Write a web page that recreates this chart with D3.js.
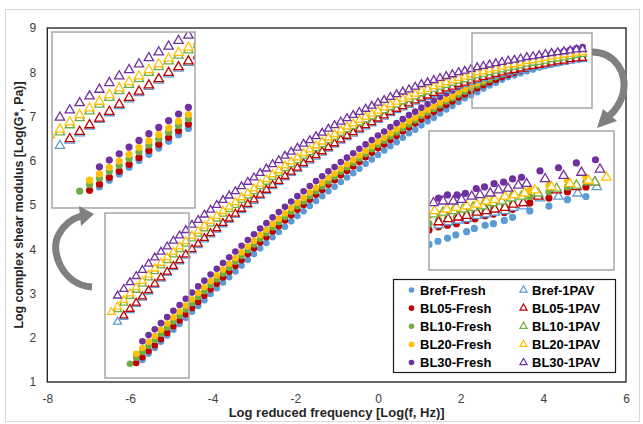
<!DOCTYPE html>
<html lang="en">
<head>
<meta charset="UTF-8" />
<title>Master curves of |G*| - Fresh vs 1PAV</title>
<style>
  body { margin: 0; background: #fff; font-family: Arial, "Liberation Sans", sans-serif; }
  .tick text { font-family: Arial, "Liberation Sans", sans-serif; font-size: 12px; fill: #404040; }
  .axis-title { font-size: 13px; font-weight: bold; fill: #262626; }
  .legend text { font-size: 13px; font-weight: bold; fill: #000; }
</style>
</head>
<body>
<div id="chart"></div>
<script src="https://d3js.org/d3.v7.min.js"></script>
<script>
// ---- data ----
var xTicks = [-8, -6, -4, -2, 0, 2, 4, 6];
var yTicks = [1, 2, 3, 4, 5, 6, 7, 8, 9];

// shared reduced-frequency grid, log(f, Hz)
var logFreq = [
  -6.45, -6.3, -6.15, -6, -5.85, -5.7, -5.55, -5.4, -5.25, -5.1, -4.95,
  -4.8, -4.65, -4.5, -4.35, -4.2, -4.05, -3.9, -3.75, -3.6, -3.45, -3.3,
  -3.15, -3, -2.85, -2.7, -2.55, -2.4, -2.25, -2.1, -1.95, -1.8, -1.65,
  -1.5, -1.35, -1.2, -1.05, -0.9, -0.75, -0.6, -0.45, -0.3, -0.15, 0,
  0.15, 0.3, 0.45, 0.6, 0.75, 0.9, 1.05, 1.2, 1.35, 1.5, 1.65,
  1.8, 1.95, 2.1, 2.25, 2.4, 2.55, 2.7, 2.85, 3, 3.15, 3.3,
  3.45, 3.6, 3.75, 3.9, 4.05, 4.2, 4.35, 4.5, 4.65, 4.8, 4.95
];

// log|G*| (Pa) on that grid, null = no point
var brefFresh = [
  null, null, null, null, null, 1.50, 1.64, 1.77, 1.91, 2.05, 2.18,
  2.31, 2.45, 2.59, 2.72, 2.85, 2.99, 3.12, 3.25, 3.37, 3.50, 3.63,
  3.76, 3.89, 4.02, 4.14, 4.27, 4.39, 4.51, 4.63, 4.75, 4.86, 4.98,
  5.09, 5.20, 5.31, 5.41, 5.52, 5.62, 5.72, 5.82, 5.93, 6.03, 6.13,
  6.23, 6.33, 6.42, 6.52, 6.62, 6.70, 6.80, 6.89, 6.97, 7.07, 7.16,
  7.24, 7.33, 7.41, 7.48, 7.55, 7.63, 7.70, 7.76, 7.83, 7.89, 7.93,
  7.98, 8.02, 8.06, 8.11, 8.14, 8.17, 8.20, 8.24, 8.27, 8.31, 8.34
];
var bl05Fresh = [
  null, null, null, null, 1.43, 1.56, 1.70, 1.83, 1.97, 2.11, 2.26,
  2.39, 2.53, 2.67, 2.81, 2.95, 3.09, 3.22, 3.36, 3.49, 3.62, 3.75,
  3.89, 4.02, 4.15, 4.27, 4.40, 4.52, 4.65, 4.77, 4.89, 5.00, 5.12,
  5.23, 5.34, 5.46, 5.56, 5.67, 5.77, 5.87, 5.97, 6.08, 6.18, 6.28,
  6.37, 6.47, 6.56, 6.66, 6.75, 6.84, 6.93, 7.01, 7.10, 7.18, 7.26,
  7.34, 7.43, 7.50, 7.57, 7.64, 7.71, 7.77, 7.83, 7.89, 7.94, 7.99,
  8.04, 8.08, 8.12, 8.16, 8.19, 8.22, 8.25, 8.28, 8.31, 8.34, 8.37
];
var bl10Fresh = [
  null, null, null, 1.41, 1.55, 1.68, 1.82, 1.95, 2.09, 2.23, 2.37,
  2.50, 2.64, 2.78, 2.92, 3.05, 3.19, 3.32, 3.45, 3.58, 3.72, 3.85,
  3.98, 4.11, 4.24, 4.36, 4.49, 4.61, 4.73, 4.85, 4.97, 5.08, 5.20,
  5.31, 5.42, 5.53, 5.64, 5.75, 5.85, 5.95, 6.05, 6.15, 6.26, 6.36,
  6.45, 6.55, 6.64, 6.73, 6.82, 6.91, 7.01, 7.09, 7.17, 7.25, 7.34,
  7.41, 7.49, 7.56, 7.64, 7.70, 7.77, 7.83, 7.89, 7.95, 8.00, 8.04,
  8.09, 8.13, 8.17, 8.21, 8.24, 8.27, 8.30, 8.33, 8.36, 8.40, 8.43
];
var bl20Fresh = [
  null, null, null, null, 1.64, 1.77, 1.91, 2.04, 2.18, 2.32, 2.46,
  2.59, 2.73, 2.87, 3.01, 3.14, 3.28, 3.41, 3.54, 3.67, 3.80, 3.93,
  4.06, 4.19, 4.32, 4.44, 4.57, 4.69, 4.81, 4.93, 5.05, 5.16, 5.28,
  5.39, 5.50, 5.61, 5.71, 5.82, 5.92, 6.02, 6.12, 6.22, 6.33, 6.43,
  6.52, 6.62, 6.71, 6.80, 6.89, 6.97, 7.07, 7.15, 7.23, 7.31, 7.39,
  7.46, 7.55, 7.62, 7.69, 7.75, 7.82, 7.88, 7.94, 8.00, 8.05, 8.09,
  8.14, 8.17, 8.21, 8.26, 8.29, 8.32, 8.35, 8.38, 8.41, 8.45, 8.48
];
var bl30Fresh = [
  null, null, null, null, null, 1.92, 2.06, 2.19, 2.33, 2.47, 2.61,
  2.74, 2.88, 3.02, 3.16, 3.29, 3.43, 3.56, 3.69, 3.82, 3.95, 4.08,
  4.21, 4.34, 4.47, 4.59, 4.72, 4.84, 4.96, 5.08, 5.20, 5.31, 5.43,
  5.54, 5.65, 5.76, 5.86, 5.97, 6.07, 6.17, 6.27, 6.37, 6.47, 6.57,
  6.66, 6.76, 6.85, 6.94, 7.03, 7.11, 7.20, 7.28, 7.36, 7.44, 7.52,
  7.59, 7.67, 7.74, 7.81, 7.87, 7.94, 8.00, 8.05, 8.11, 8.16, 8.20,
  8.25, 8.28, 8.32, 8.36, 8.39, 8.42, 8.45, 8.48, 8.51, 8.54, 8.57
];
var bref1PAV = [
  null, 2.36, 2.47, 2.62, 2.76, 2.90, 3.04, 3.19, 3.33, 3.46, 3.59,
  3.72, 3.85, 3.97, 4.09, 4.22, 4.33, 4.44, 4.56, 4.66, 4.77, 4.88,
  4.99, 5.09, 5.20, 5.31, 5.42, 5.51, 5.62, 5.72, 5.81, 5.91, 6.00,
  6.09, 6.18, 6.27, 6.36, 6.45, 6.53, 6.61, 6.69, 6.77, 6.84, 6.92,
  6.99, 7.07, 7.14, 7.20, 7.26, 7.33, 7.39, 7.44, 7.50, 7.55, 7.60,
  7.64, 7.70, 7.73, 7.78, 7.82, 7.86, 7.89, 7.93, 7.96, 8.00, 8.02,
  8.05, 8.09, 8.11, 8.13, 8.16, 8.19, 8.21, 8.23, 8.26, 8.28, 8.29
];
var bl051PAV = [
  null, null, 2.50, 2.65, 2.79, 2.93, 3.07, 3.22, 3.36, 3.49, 3.62,
  3.75, 3.88, 4.00, 4.12, 4.25, 4.36, 4.47, 4.59, 4.69, 4.80, 4.91,
  5.02, 5.12, 5.23, 5.34, 5.45, 5.54, 5.65, 5.75, 5.84, 5.94, 6.03,
  6.12, 6.21, 6.30, 6.39, 6.48, 6.56, 6.64, 6.72, 6.80, 6.87, 6.95,
  7.02, 7.10, 7.17, 7.23, 7.29, 7.36, 7.42, 7.47, 7.53, 7.58, 7.63,
  7.67, 7.73, 7.76, 7.81, 7.85, 7.89, 7.92, 7.96, 7.99, 8.03, 8.05,
  8.08, 8.12, 8.14, 8.16, 8.19, 8.22, 8.24, 8.26, 8.29, 8.31, 8.32
];
var bl101PAV = [
  null, 2.64, 2.79, 2.94, 3.08, 3.22, 3.36, 3.50, 3.63, 3.75, 3.88,
  4.00, 4.12, 4.24, 4.35, 4.47, 4.58, 4.69, 4.80, 4.90, 5.00, 5.11,
  5.21, 5.31, 5.42, 5.52, 5.63, 5.72, 5.83, 5.92, 6.01, 6.11, 6.19,
  6.28, 6.37, 6.46, 6.54, 6.63, 6.71, 6.78, 6.86, 6.93, 7.00, 7.07,
  7.14, 7.21, 7.27, 7.34, 7.39, 7.45, 7.52, 7.56, 7.62, 7.67, 7.71,
  7.76, 7.81, 7.84, 7.89, 7.93, 7.96, 8.00, 8.03, 8.06, 8.10, 8.12,
  8.15, 8.19, 8.21, 8.23, 8.26, 8.29, 8.31, 8.33, 8.36, 8.39, 8.41
];
var bl201PAV = [
  2.58, 2.70, 2.85, 3.00, 3.14, 3.28, 3.42, 3.56, 3.69, 3.81, 3.94,
  4.06, 4.18, 4.30, 4.41, 4.53, 4.64, 4.75, 4.86, 4.96, 5.06, 5.17,
  5.27, 5.37, 5.48, 5.58, 5.69, 5.78, 5.89, 5.98, 6.07, 6.17, 6.25,
  6.34, 6.43, 6.52, 6.60, 6.69, 6.77, 6.84, 6.92, 6.99, 7.06, 7.13,
  7.20, 7.27, 7.33, 7.40, 7.45, 7.51, 7.58, 7.62, 7.68, 7.73, 7.77,
  7.82, 7.87, 7.90, 7.95, 7.99, 8.02, 8.06, 8.09, 8.12, 8.16, 8.18,
  8.21, 8.25, 8.27, 8.29, 8.32, 8.35, 8.37, 8.39, 8.41, 8.44, 8.45
];
var bl301PAV = [
  null, 2.95, 3.10, 3.25, 3.39, 3.53, 3.67, 3.81, 3.94, 4.06, 4.19,
  4.31, 4.43, 4.55, 4.66, 4.78, 4.89, 5.00, 5.11, 5.21, 5.31, 5.42,
  5.52, 5.62, 5.72, 5.82, 5.92, 6.01, 6.11, 6.20, 6.29, 6.38, 6.46,
  6.55, 6.63, 6.72, 6.80, 6.88, 6.96, 7.03, 7.10, 7.17, 7.24, 7.31,
  7.37, 7.44, 7.50, 7.56, 7.61, 7.67, 7.73, 7.77, 7.82, 7.87, 7.91,
  7.95, 8.00, 8.03, 8.07, 8.11, 8.14, 8.17, 8.20, 8.23, 8.26, 8.28,
  8.31, 8.34, 8.36, 8.38, 8.41, 8.43, 8.45, 8.47, 8.49, 8.51, 8.52
];

// high-frequency zoom (right inset), [log f, log|G*|]
var insetBrefFresh = [[2.30,8.04],[2.44,8.06],[2.59,8.08],[2.72,8.10],[2.89,8.12],[3.01,8.14],[3.18,8.16],[3.31,8.17],[3.48,8.19],[3.61,8.21],[3.88,8.25],[4.18,8.28],[4.47,8.32],[4.76,8.34]];
var insetBl05Fresh = [[2.30,8.13],[2.45,8.15],[2.59,8.16],[2.73,8.17],[2.89,8.19],[3.02,8.20],[3.18,8.22],[3.31,8.23],[3.48,8.24],[3.61,8.26],[3.88,8.30],[4.18,8.33],[4.47,8.37],[4.76,8.40]];
var insetBl10Fresh = [[2.30,8.17],[2.45,8.19],[2.59,8.20],[2.73,8.21],[2.89,8.23],[3.02,8.24],[3.18,8.25],[3.31,8.27],[3.48,8.28],[3.61,8.30],[3.88,8.34],[4.18,8.37],[4.47,8.40],[4.76,8.43]];
var insetBl20Fresh = [[2.30,8.22],[2.45,8.23],[2.59,8.25],[2.73,8.26],[2.89,8.27],[3.02,8.29],[3.18,8.31],[3.31,8.32],[3.48,8.33],[3.61,8.35],[3.88,8.38],[4.18,8.41],[4.47,8.44],[4.76,8.46]];
var insetBl30Fresh = [[2.45,8.33],[2.59,8.35],[2.74,8.35],[2.87,8.36],[3.04,8.39],[3.17,8.40],[3.32,8.42],[3.47,8.43],[3.61,8.45],[3.75,8.46],[4.04,8.50],[4.33,8.52],[4.61,8.55],[4.91,8.57]];
var insetBref1PAV = [[2.45,8.16],[2.60,8.18],[2.76,8.19],[2.89,8.20],[3.05,8.22],[3.20,8.23],[3.33,8.24],[3.49,8.25],[3.62,8.27],[3.78,8.28],[4.04,8.33],[4.33,8.34],[4.63,8.36],[4.93,8.40]];
var insetBl051PAV = [[2.45,8.18],[2.60,8.20],[2.76,8.21],[2.89,8.22],[3.05,8.24],[3.20,8.25],[3.33,8.26],[3.49,8.27],[3.62,8.29],[3.78,8.30],[4.01,8.34],[4.30,8.38],[4.61,8.40],[4.90,8.43]];
var insetBl101PAV = [[2.37,8.23],[2.52,8.24],[2.68,8.25],[2.83,8.26],[2.99,8.27],[3.14,8.28],[3.30,8.30],[3.44,8.31],[3.59,8.33],[3.75,8.34],[4.01,8.36],[4.30,8.39],[4.61,8.41],[4.90,8.43]];
var insetBl201PAV = [[2.39,8.25],[2.58,8.26],[2.73,8.27],[2.89,8.28],[3.05,8.29],[3.20,8.31],[3.33,8.32],[3.49,8.34],[3.64,8.35],[3.80,8.36],[3.96,8.38],[4.22,8.40],[4.51,8.42],[4.80,8.44],[5.08,8.46]];
var insetBl301PAV = [[2.37,8.30],[2.52,8.31],[2.68,8.31],[2.81,8.32],[2.97,8.34],[3.10,8.35],[3.26,8.36],[3.39,8.38],[3.54,8.39],[3.70,8.41],[3.83,8.42],[4.12,8.45],[4.41,8.47],[4.69,8.49],[4.98,8.51]];

var seriesNames = ["Bref", "BL05", "BL10", "BL20", "BL30"];
var seriesColors = ["#5B9BD5", "#C00000", "#70AD47", "#FFC000", "#7030A0"];
var freshValues = [brefFresh, bl05Fresh, bl10Fresh, bl20Fresh, bl30Fresh];
var agedValues = [bref1PAV, bl051PAV, bl101PAV, bl201PAV, bl301PAV];
var freshInset = [insetBrefFresh, insetBl05Fresh, insetBl10Fresh, insetBl20Fresh, insetBl30Fresh];
var agedInset = [insetBref1PAV, insetBl051PAV, insetBl101PAV, insetBl201PAV, insetBl301PAV];

// ---- layout ----
var width = 643, height = 424;
var plot = {left: 47.3, right: 626, top: 28, bottom: 382};

var svg = d3.select("#chart").append("svg")
  .attr("width", width)
  .attr("height", height);

// chart area border
svg.append("rect")
  .attr("x", 5.5).attr("y", 9.5)
  .attr("width", 634).attr("height", 412)
  .attr("fill", "#fff").attr("stroke", "#D9D9D9");

var x = d3.scaleLinear().domain([-8, 6]).range([plot.left, plot.right]);
var y = d3.scaleLinear().domain([1, 9]).range([plot.bottom, plot.top]);

// axes (labels only, Excel style)
svg.append("g")
  .attr("transform", "translate(0," + plot.bottom + ")")
  .call(d3.axisBottom(x).tickValues(xTicks).tickSize(0).tickPadding(12).tickFormat(function(d) { return String(d); }))
  .call(function(g) { g.select(".domain").remove(); });

svg.append("g")
  .attr("transform", "translate(" + plot.left + ",0)")
  .call(d3.axisLeft(y).tickValues(yTicks).tickSize(0).tickPadding(11).tickFormat(function(d) { return String(d); }))
  .call(function(g) { g.select(".domain").remove(); });

svg.append("text")
  .attr("class", "axis-title")
  .attr("x", (plot.left + plot.right) / 2).attr("y", 417)
  .attr("text-anchor", "middle")
  .text("Log reduced frequency [Log(f, Hz)]");

svg.append("text")
  .attr("class", "axis-title")
  .style("font-size", "12.4px")
  .attr("transform", "translate(19," + (plot.top + plot.bottom) / 2 + ") rotate(-90)")
  .attr("text-anchor", "middle")
  .attr("dominant-baseline", "central")
  .text("Log complex shear modulus [Log(G*, Pa)]");

// ---- markers ----
function drawMarkers(g, points, color, shape, sx, sy, size) {
  if (shape === "circle") {
    g.append("g").selectAll("circle")
      .data(points)
      .enter()
      .append("circle")
      .attr("cx", function(d) { return sx(d[0]); })
      .attr("cy", function(d) { return sy(d[1]); })
      .attr("r", size)
      .attr("fill", color);
  } else {
    var tri = d3.symbol().type(d3.symbolTriangle).size(size);
    g.append("g").selectAll("path")
      .data(points)
      .enter()
      .append("path")
      .attr("d", tri)
      .attr("transform", function(d) { return "translate(" + sx(d[0]) + "," + sy(d[1]) + ")"; })
      .attr("fill", "#fff")
      .attr("stroke", color)
      .attr("stroke-width", 1.3);
  }
}

function onGrid(vals) {
  return logFreq.map(function(f, i) { return [f, vals[i]]; })
    .filter(function(d) { return d[1] != null; });
}

function drawAll(g, sx, sy, circleR, triSize, freshPts, agedPts) {
  freshPts.forEach(function(p, i) { drawMarkers(g, p, seriesColors[i], "circle", sx, sy, circleR); });
  agedPts.forEach(function(p, i) { drawMarkers(g, p, seriesColors[i], "triangle", sx, sy, triSize); });
}

var main = svg.append("g");
drawAll(main, x, y, 3.3, 27, freshValues.map(onGrid), agedValues.map(onGrid));

// plot frame
svg.append("rect")
  .attr("x", plot.left).attr("y", plot.top)
  .attr("width", plot.right - plot.left).attr("height", plot.bottom - plot.top)
  .attr("fill", "none").attr("stroke", "#1a1a1a").attr("stroke-width", 1.3);

// boxes marking the zoomed regions
var boxColor = "#A6A6A6";
svg.append("rect").attr("x", 105).attr("y", 213).attr("width", 84).attr("height", 165)
  .attr("fill", "none").attr("stroke", boxColor).attr("stroke-width", 1.5);
svg.append("rect").attr("x", 472).attr("y", 33).attr("width", 120).attr("height", 75)
  .attr("fill", "none").attr("stroke", boxColor).attr("stroke-width", 1.5);

// ---- insets ----
function inset(id, box, xDom, yDom, freshPts, agedPts) {
  svg.append("clipPath").attr("id", id)
    .append("rect").attr("x", box.x).attr("y", box.y).attr("width", box.w).attr("height", box.h);
  svg.append("rect").attr("x", box.x).attr("y", box.y).attr("width", box.w).attr("height", box.h)
    .attr("fill", "#fff");
  var sx = d3.scaleLinear().domain(xDom).range([box.x, box.x + box.w]);
  var sy = d3.scaleLinear().domain(yDom).range([box.y + box.h, box.y]);
  var g = svg.append("g").attr("clip-path", "url(#" + id + ")");
  drawAll(g, sx, sy, 3.6, 38, freshPts, agedPts);
  svg.append("rect").attr("x", box.x).attr("y", box.y).attr("width", box.w).attr("height", box.h)
    .attr("fill", "none").attr("stroke", boxColor).attr("stroke-width", 1.5);
}

inset("clipLow", {x: 52, y: 32, w: 143, h: 176}, [-6.42, -4.25], [1.06, 4.73],
  freshValues.map(onGrid), agedValues.map(onGrid));
inset("clipHigh", {x: 429, y: 131, w: 185, h: 139}, [2.3, 5.2], [7.88, 8.75],
  freshInset, agedInset);

// ---- curved arrows ----
var arrowColor = "#808080";
svg.append("path")
  .attr("d", "M92,287 C62,285 49,250 59,234 C64,225 71,219 81,216")
  .attr("fill", "none").attr("stroke", arrowColor).attr("stroke-width", 7);
svg.append("path")
  .attr("d", "M94,214 L79,206 L81,226 Z")
  .attr("fill", arrowColor);

svg.append("path")
  .attr("d", "M592,52 C614,52 628,72 623,94 C620,104 615,111 609,116")
  .attr("fill", "none").attr("stroke", arrowColor).attr("stroke-width", 7);
svg.append("path")
  .attr("d", "M597,128 L603,109 L617,121 Z")
  .attr("fill", arrowColor);

// ---- legend ----
var legend = svg.append("g").attr("class", "legend");
legend.append("rect")
  .attr("x", 393.5).attr("y", 279.5).attr("width", 222).attr("height", 93)
  .attr("fill", "#fff").attr("stroke", "#1a1a1a").attr("stroke-width", 1.2);

var rowY = d3.scalePoint().domain(seriesNames).range([290, 362.5]);
var tri = d3.symbol().type(d3.symbolTriangle).size(22);

seriesNames.forEach(function(name, i) {
  var ry = rowY(name);
  legend.append("circle").attr("cx", 411.5).attr("cy", ry).attr("r", 2.8).attr("fill", seriesColors[i]);
  legend.append("text").attr("x", 420).attr("y", ry).attr("dy", "0.36em").text(name + "-Fresh");
  legend.append("path").attr("d", tri).attr("transform", "translate(523.5," + ry + ")")
    .attr("fill", "#fff").attr("stroke", seriesColors[i]).attr("stroke-width", 1.2);
  legend.append("text").attr("x", 532).attr("y", ry).attr("dy", "0.36em").text(name + "-1PAV");
});
</script>
</body>
</html>
